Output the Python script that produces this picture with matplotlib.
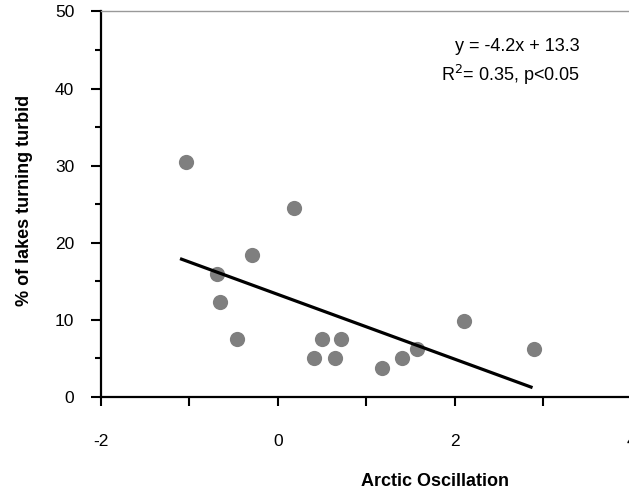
import numpy as np
import matplotlib
matplotlib.use('Agg')
import matplotlib.pyplot as plt
from matplotlib.ticker import MultipleLocator

plt.rcParams['font.family'] = ['Liberation Sans', 'DejaVu Sans']
plt.rcParams['axes.unicode_minus'] = False

# Arctic Oscillation index vs % of lakes turning turbid
ao = [-1.04, -0.69, -0.65, -0.46, -0.29, 0.18, 0.41, 0.50, 0.65, 0.71,
      1.18, 1.40, 1.57, 2.10, 2.89]
turbid = [30.5, 16.0, 12.3, 7.5, 18.4, 24.5, 5.1, 7.5, 5.1, 7.5,
          3.8, 5.1, 6.2, 9.9, 6.2]
slope, intercept = -4.2, 13.3

fig = plt.figure(figsize=(6.29, 4.93), dpi=100)
ax = fig.add_axes([0.1606, 0.1947, 0.844, 0.782])

ax.scatter(ao, turbid, s=120, color='#7f7f7f', zorder=3, linewidths=0)
xl = np.array([min(ao) - 0.05, max(ao) - 0.03])
ax.plot(xl, slope * xl + intercept, color='black', lw=2.3, zorder=4)

ax.set_xlim(-2, 4)
ax.set_ylim(0, 50)
ax.xaxis.set_major_locator(MultipleLocator(2))
ax.xaxis.set_minor_locator(MultipleLocator(1))
ax.yaxis.set_major_locator(MultipleLocator(10))
ax.yaxis.set_minor_locator(MultipleLocator(5))

ax.spines['right'].set_visible(False)
ax.spines['top'].set_color('#999999')
ax.spines['top'].set_linewidth(1.0)
ax.spines['left'].set_linewidth(1.6)
ax.spines['bottom'].set_linewidth(1.6)

ax.tick_params(axis='x', which='both', direction='out', length=6.5, width=1.5,
               labelsize=12.5, pad=20, top=False)
ax.tick_params(axis='y', which='major', direction='out', length=7.2, width=1.5,
               labelsize=12.5, pad=12, right=False)
ax.tick_params(axis='y', which='minor', direction='out', length=4.3, width=1.5,
               right=False)

ax.set_xlabel('Arctic Oscillation', fontsize=13, fontweight='bold')
ax.xaxis.set_label_coords(0.629, -0.198)
ax.set_ylabel('% of lakes turning turbid', fontsize=13, fontweight='bold')
ax.yaxis.set_label_coords(-0.128, 0.511)

ax.text(3.41, 45.4, 'y = -4.2x + 13.3', ha='right', va='center', fontsize=13)
ax.text(3.41, 41.8, 'R$^2$= 0.35, p<0.05', ha='right', va='center', fontsize=13)

fig.savefig('out.png', dpi=100)
